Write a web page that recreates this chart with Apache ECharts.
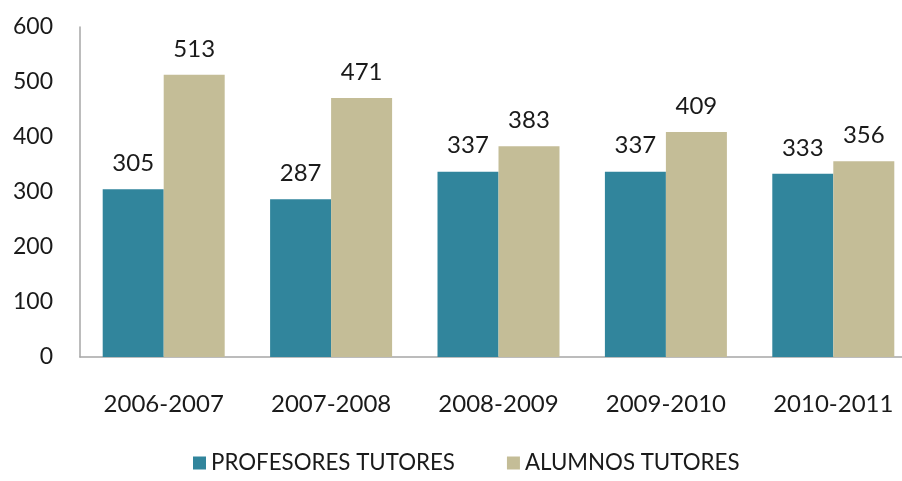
<!DOCTYPE html>
<html>
<head>
<meta charset="utf-8">
<script src="https://cdn.jsdelivr.net/npm/echarts@6/dist/echarts.min.js"></script>
<style>
  html, body { margin: 0; padding: 0; background: #fff; overflow: hidden; }
  /* the plot area runs slightly past the right edge of the window */
  #chart { width: 917px; height: 481px; }
</style>
</head>
<body>
<div id="chart"></div>
<script>
// Academic years on the category axis
const years = ['2006-2007', '2007-2008', '2008-2009', '2009-2010', '2010-2011'];
// Number of tutors per year
const profesores = [305, 287, 337, 337, 333];
const alumnos = [513, 471, 383, 409, 356];
const seriesNames = ['PROFESORES TUTORES', 'ALUMNOS TUTORES'];
const yTicks = [0, 100, 200, 300, 400, 500, 600];

const font = 'Lato, "Open Sans", sans-serif';
const chart = echarts.init(document.getElementById('chart'), null, { renderer: 'canvas' });

const labelStyle = {
  show: true,
  position: 'top',
  distance: 14,
  color: '#1a1a1a',
  fontSize: 24,
  fontFamily: font
};

chart.setOption({
  animation: false,
  backgroundColor: '#ffffff',
  grid: { left: 80, top: 27, right: 0, height: 330, containLabel: false },
  legend: {
    data: seriesNames,
    bottom: 2,
    left: 188,
    itemWidth: 13,
    itemHeight: 13,
    itemGap: 52,
    icon: 'rect',
    textStyle: { fontSize: 22.3, color: '#1a1a1a', fontFamily: font }
  },
  xAxis: {
    type: 'category',
    data: years,
    axisLine: { show: true, lineStyle: { color: '#a6a6a6', width: 1.5 } },
    axisTick: { show: false },
    axisLabel: { color: '#1a1a1a', fontSize: 24, fontFamily: font, margin: 35 }
  },
  yAxis: {
    type: 'value',
    min: yTicks[0],
    max: yTicks[yTicks.length - 1],
    interval: 100,
    axisLine: { show: true, lineStyle: { color: '#a6a6a6', width: 1.5 } },
    axisTick: { show: false },
    splitLine: { show: false },
    axisLabel: { color: '#1a1a1a', fontSize: 23, fontFamily: font, margin: 27 }
  },
  series: [
    {
      name: seriesNames[0],
      type: 'bar',
      data: profesores,
      barWidth: 61,
      barGap: '0%',
      itemStyle: { color: '#31859c' },
      label: labelStyle
    },
    {
      name: seriesNames[1],
      type: 'bar',
      data: alumnos,
      barWidth: 61,
      barGap: '0%',
      itemStyle: { color: '#c4bd97' },
      label: labelStyle
    }
  ]
});
</script>
</body>
</html>
